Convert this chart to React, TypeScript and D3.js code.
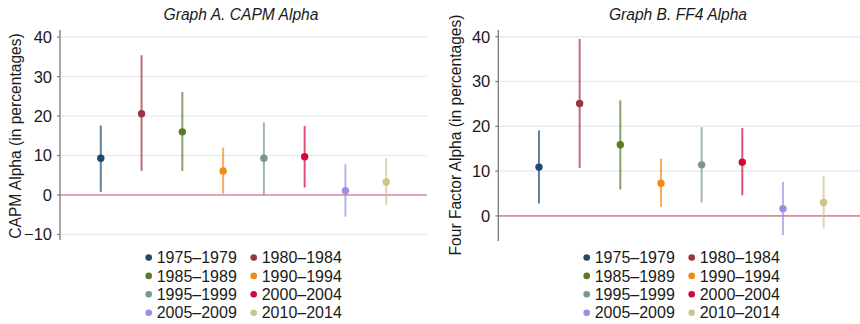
import * as d3 from "d3";

const periods = [
  "1975–1979",
  "1980–1984",
  "1985–1989",
  "1990–1994",
  "1995–1999",
  "2000–2004",
  "2005–2009",
  "2010–2014",
];

const periodColors = [
  "#1d4870",
  "#9a3540",
  "#587a25",
  "#ef8a12",
  "#77988a",
  "#d4073a",
  "#9a90dc",
  "#cdc587",
];

// Graph A: CAPM alpha with confidence band ends
const capmAlpha = [9.3, 20.6, 16.0, 6.1, 9.3, 9.7, 1.1, 3.3];
const capmLow = [0.8, 6.1, 6.1, 0.4, 0.0, 1.9, -5.5, -2.5];
const capmHigh = [17.6, 35.4, 26.1, 12.0, 18.4, 17.5, 7.8, 9.3];

// Graph B: four factor alpha
const ff4Alpha = [10.9, 25.1, 15.9, 7.3, 11.4, 12.0, 1.6, 3.0];
const ff4Low = [2.8, 10.7, 5.9, 2.0, 3.0, 4.6, -4.3, -2.8];
const ff4High = [19.1, 39.5, 25.8, 12.8, 19.8, 19.6, 7.6, 8.9];

const capmTicks = [-10, 0, 10, 20, 30, 40];
const ff4Ticks = [0, 10, 20, 30, 40];

const FONT = "'Liberation Sans', Arial, Helvetica, sans-serif";

interface PanelProps {
  title: string;
  yLabel: string;
  alpha: number[];
  low: number[];
  high: number[];
  ticks: number[];
  yDomain: [number, number];
  yRange: [number, number];
  x0: number;
  x1: number;
  titleX: number;
  labelX: number;
  labelY: number;
  legendX: number;
}

function Panel(p: PanelProps) {
  const x = d3.scaleLinear().domain([0, periods.length + 1]).range([p.x0, p.x1]);
  const y = d3.scaleLinear().domain(p.yDomain).range(p.yRange);
  const legendRows = d3.range(Math.ceil(periods.length / 2));

  return (
    <g>
      <text
        x={p.titleX}
        y={20}
        textAnchor="middle"
        fontStyle="italic"
        fontSize={15.6}
        fill="#1a1a1a"
      >
        {p.title}
      </text>

      {/* gridlines */}
      {p.ticks.map((t) => (
        <line
          key={"g" + t}
          x1={p.x0}
          x2={Math.min(p.x1, 860)}
          y1={y(t)}
          y2={y(t)}
          stroke="#e4eeec"
          strokeWidth={1.5}
        />
      ))}

      {/* zero line */}
      <line
        x1={p.x0}
        x2={Math.min(p.x1, 860)}
        y1={y(0)}
        y2={y(0)}
        stroke="#e3899e"
        strokeWidth={1.6}
      />

      {/* y axis */}
      <line
        x1={p.x0}
        x2={p.x0}
        y1={p.yRange[1]}
        y2={p.yRange[0]}
        stroke="#7a7a7a"
        strokeWidth={1.3}
      />
      {p.ticks.map((t) => (
        <g key={"t" + t}>
          <line x1={p.x0 - 3} x2={p.x0} y1={y(t)} y2={y(t)} stroke="#7a7a7a" strokeWidth={1.2} />
          <text
            x={p.x0 - 8}
            y={y(t)}
            dy="0.36em"
            textAnchor="end"
            fontSize={16.5}
            fill="#1a1a1a"
          >
            {d3.format("")(t).replace("-", "−")}
          </text>
        </g>
      ))}

      <text
        transform={`translate(${p.labelX},${p.labelY}) rotate(-90)`}
        textAnchor="middle"
        fontSize={15.6}
        fill="#1a1a1a"
      >
        {p.yLabel}
      </text>

      {/* error bars and points */}
      {periods.map((per, i) => (
        <g key={per}>
          <line
            x1={x(i + 1)}
            x2={x(i + 1)}
            y1={y(p.low[i])}
            y2={y(p.high[i])}
            stroke={periodColors[i]}
            strokeOpacity={0.7}
            strokeWidth={2}
          />
          <circle cx={x(i + 1)} cy={y(p.alpha[i])} r={3.7} fill={periodColors[i]} />
        </g>
      ))}

      {/* legend */}
      {legendRows.map((r) =>
        [0, 1].map((c) => {
          const i = r * 2 + c;
          const lx = p.legendX + c * 105;
          const ly = 257.5 + r * 18.4;
          return (
            <g key={"l" + i}>
              <circle cx={lx} cy={ly} r={3.3} fill={periodColors[i]} />
              <text x={lx + 8} y={ly} dy="0.36em" fontSize={16} fill="#1a1a1a">
                {periods[i]}
              </text>
            </g>
          );
        })
      )}
    </g>
  );
}

export default function App() {
  return (
    <svg
      width={860}
      height={324}
      style={{ position: "absolute", left: 0, top: 0, background: "#fff" }}
      fontFamily={FONT}
    >
      <Panel
        title="Graph A. CAPM Alpha"
        yLabel="CAPM Alpha (in percentages)"
        alpha={capmAlpha}
        low={capmLow}
        high={capmHigh}
        ticks={capmTicks}
        yDomain={[-11.4, 41.8]}
        yRange={[240, 30]}
        x0={60}
        x1={427}
        titleX={241}
        labelX={21}
        labelY={136}
        legendX={148.7}
      />
      <Panel
        title="Graph B. FF4 Alpha"
        yLabel="Four Factor Alpha (in percentages)"
        alpha={ff4Alpha}
        low={ff4Low}
        high={ff4High}
        ticks={ff4Ticks}
        yDomain={[-5.6, 41.5]}
        yRange={[241, 30]}
        x0={498.3}
        x1={864.3}
        titleX={678}
        labelX={461}
        labelY={135}
        legendX={586.7}
      />
    </svg>
  );
}
